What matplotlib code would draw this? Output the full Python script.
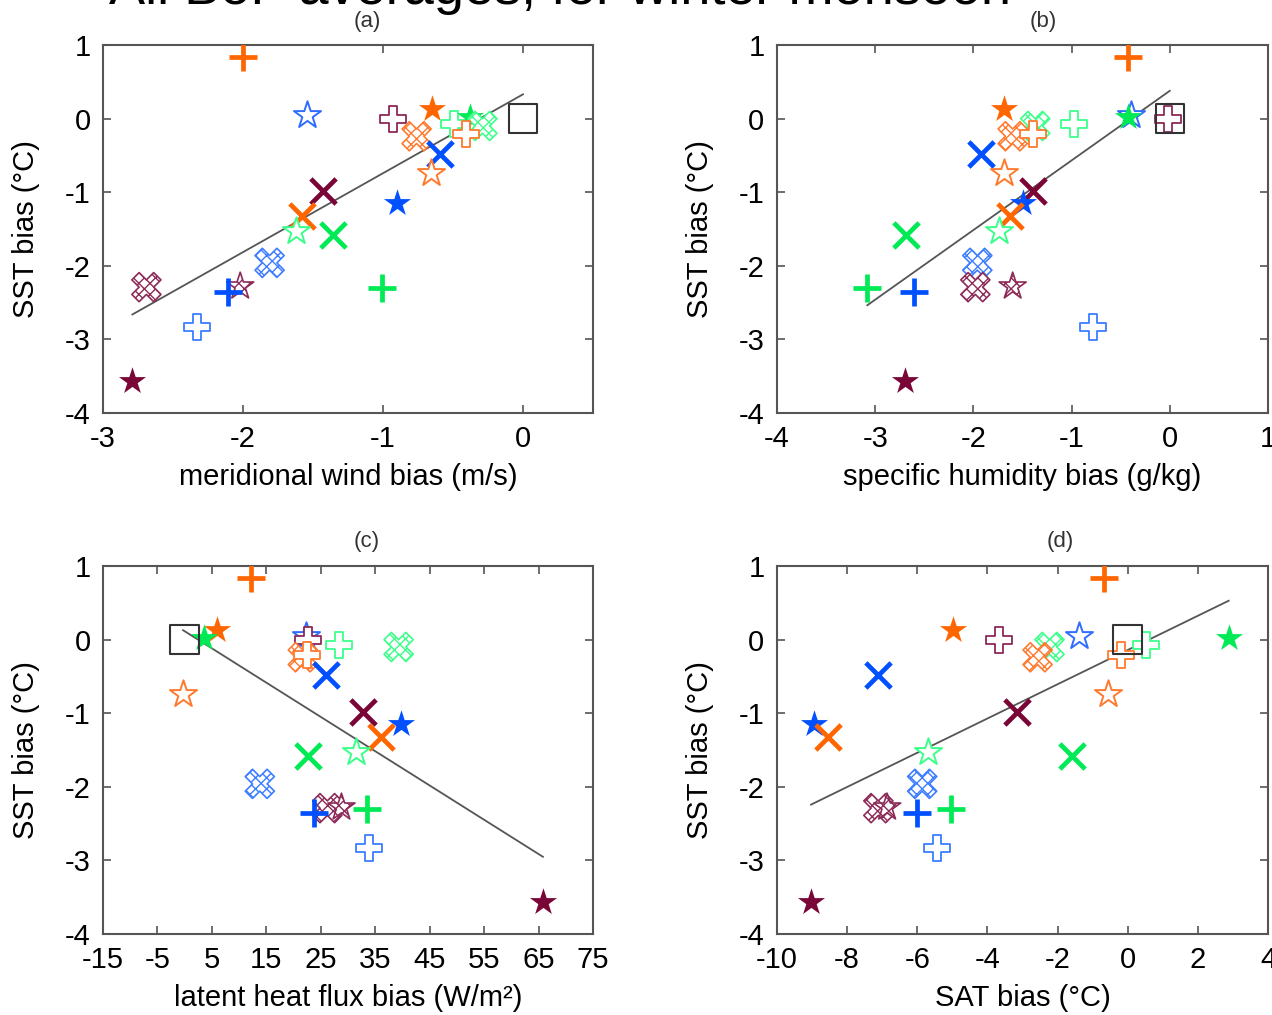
import matplotlib.pyplot as plt
import numpy as np

plt.rcParams['font.family'] = ['Liberation Sans', 'DejaVu Sans']
plt.rcParams['axes.unicode_minus'] = False

# one entry per model: SST bias and the four predictor biases
sst = [0.84, 0.05, 0.0, 0.13, -0.08, 0.02, -0.10, -0.24, -0.21, -0.48, -0.74, -0.99,
       -1.14, -1.33, -1.53, -1.58, -1.96, -2.29, -2.28, -2.35, -2.30, -2.83, -3.56]
vwind = [-2.00, -1.54, -0.93, -0.65, -0.49, -0.38, -0.29, -0.76, -0.41, -0.59, -0.66, -1.43,
         -0.90, -1.58, -1.62, -1.36, -1.81, -2.69, -2.02, -2.11, -1.01, -2.33, -2.79]
qhum = [-0.43, -0.40, -0.02, -1.69, -0.98, -0.43, -1.37, -1.60, -1.39, -1.92, -1.69, -1.39,
        -1.49, -1.63, -1.74, -2.69, -1.96, -1.98, -1.60, -2.60, -3.08, -0.78, -2.70]
lhf = [12.1, 22.2, 22.6, 5.9, 28.3, 3.5, 39.3, 21.7, 22.4, 26.0, -0.3, 32.7,
       39.8, 36.1, 31.4, 22.6, 13.8, 26.2, 28.8, 23.7, 33.4, 33.9, 65.8]
sat = [-0.69, -1.40, -3.66, -4.97, 0.51, 2.88, -2.23, -2.57, -0.20, -7.11, -0.57, -3.17,
       -8.94, -8.54, -5.69, -1.60, -5.86, -7.11, -6.86, -6.00, -5.03, -5.43, -9.03]

# symbol and fill style of each model
shapes = ['plus', 'star', 'plus', 'star', 'plus', 'star', 'x', 'x', 'plus', 'x', 'star', 'x',
          'star', 'x', 'star', 'x', 'x', 'x', 'star', 'plus', 'plus', 'plus', 'star']
fills = ['solid', 'open', 'open', 'solid', 'open', 'solid', 'hatch', 'hatch', 'open', 'solid',
         'open', 'solid', 'solid', 'solid', 'open', 'solid', 'hatch', 'hatch', 'hatch', 'solid',
         'solid', 'open', 'solid']
colors = ['#ff6600', '#2f6cff', '#8c2a58', '#ff6600', '#3cff8a', '#00ea55', '#3cff8a', '#ff7a2e',
          '#ff7a2e', '#0050ff', '#ff7a2e', '#7a0638', '#0050ff', '#ff6600', '#3cff8a', '#00ea55',
          '#3d7dff', '#8c2a58', '#8c2a58', '#0050ff', '#00ea55', '#3d7dff', '#7a0638']

panels = [
    ('(a)', vwind, (-3, 0.5), [-3, -2, -1, 0], 'meridional wind bias (m/s)'),
    ('(b)', qhum, (-4, 1), [-4, -3, -2, -1, 0, 1], 'specific humidity bias (g/kg)'),
    ('(c)', lhf, (-15, 75), list(range(-15, 76, 10)), 'latent heat flux bias (W/m²)'),
    ('(d)', sat, (-10, 4), list(range(-10, 5, 2)), 'SAT bias (°C)'),
]

W, H = 1272, 1015
fig = plt.figure(figsize=(W / 100, H / 100), dpi=100)

boxes = [(103, 45, 593, 413), (777, 45, 1268, 413), (103, 566, 593, 934), (777, 566, 1268, 934)]
tag_x = [367, 1043, 367, 1060]


def draw_model(ax, x, y, shape, fill, col):
    if shape == 'plus':
        if fill == 'solid':
            ax.scatter(x, y, marker='+', s=420, color=col, linewidths=3.4, zorder=3)
        else:
            ax.scatter(x, y, marker='P', s=360, facecolor='white', edgecolor=col,
                       linewidths=1.3, zorder=3)
    elif shape == 'x':
        if fill == 'solid':
            ax.scatter(x, y, marker='x', s=330, color=col, linewidths=3.4, zorder=3)
        else:
            ax.scatter(x, y, marker='X', s=440, facecolor='white', edgecolor=col,
                       linewidths=1.2, hatch='xxx', zorder=3)
    else:
        if fill == 'solid':
            ax.scatter(x, y, marker='*', s=420, color=col, linewidths=0, zorder=3)
        elif fill == 'open':
            ax.scatter(x, y, marker='*', s=420, facecolor='white', edgecolor=col,
                       linewidths=1.4, zorder=3)
        else:
            ax.scatter(x, y, marker='*', s=420, facecolor='white', edgecolor=col,
                       linewidths=1.2, hatch='xxx', zorder=3)


for (tag, xs, xlim, xticks, xlabel), (l, t, r, b), tx in zip(panels, boxes, tag_x):
    ax = fig.add_axes([l / W, 1 - b / H, (r - l) / W, (b - t) / H])
    xs_arr = np.array(xs)
    ys_arr = np.array(sst)

    # least-squares fit over the models, spanning the data and the reference
    k, c0 = np.polyfit(xs_arr, ys_arr, 1)
    x0 = min(xs_arr.min(), 0)
    x1 = max(xs_arr.max(), 0)
    ax.plot([x0, x1], [k * x0 + c0, k * x1 + c0], color='#555555', lw=1.3, zorder=2)

    for xi, yi, sh, fl, col in zip(xs, sst, shapes, fills, colors):
        draw_model(ax, xi, yi, sh, fl, col)

    # reference point
    ax.scatter(0, 0, marker='s', s=420, facecolor='none', edgecolor='#333333',
               linewidths=1.5, zorder=4)

    ax.set_xlim(*xlim)
    ax.set_ylim(-4, 1)
    ax.set_xticks(xticks)
    ax.set_yticks([-4, -3, -2, -1, 0, 1])
    ax.tick_params(direction='in', length=6, width=1.2, color='#555555', labelsize=21,
                   top=True, right=True, pad=9)
    for sp in ax.spines.values():
        sp.set_color('#555555')
        sp.set_linewidth(1.5)
    ax.set_xlabel(xlabel, fontsize=21, labelpad=7)
    ax.set_ylabel('SST bias (°C)', fontsize=21, labelpad=18)

    fig.text(tx / W, 1 - (t - 24) / H, tag, ha='center', va='center', fontsize=16,
             color='#333333')

fig.text(560 / W, 1 - 4 / H, 'All BoF averages, for winter monsoon', ha='center',
         va='baseline', fontsize=39)

fig.savefig('out.png', dpi=100)
